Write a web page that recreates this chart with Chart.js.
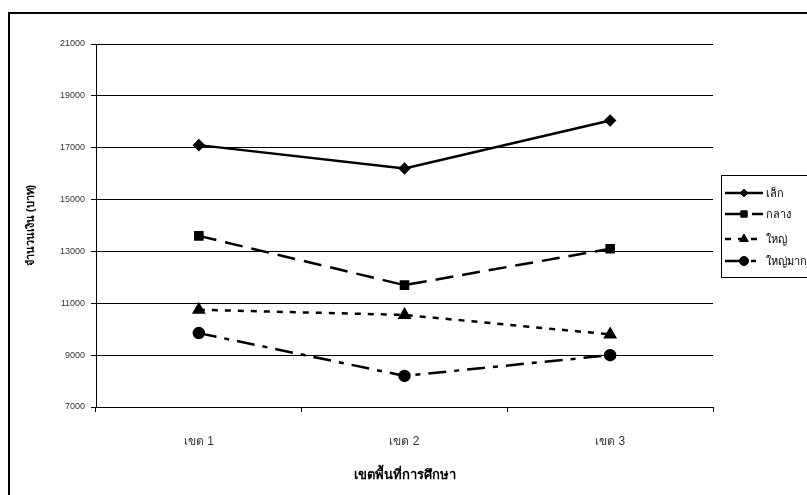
<!DOCTYPE html>
<html>
<head>
<meta charset="utf-8">
<script src="https://cdn.jsdelivr.net/npm/chart.js@4"></script>
<style>
  html, body { margin: 0; padding: 0; background: #fff; }
  #wrap { width: 807px; height: 495px; }
</style>
</head>
<body>
<div id="wrap"><canvas id="chart" width="807" height="495"></canvas></div>
<script>
const zones = ['เขต 1', 'เขต 2', 'เขต 3'];
const small = [17100, 16200, 18050];
const medium = [13600, 11700, 13100];
const large = [10750, 10550, 9800];
const xlarge = [9850, 8200, 9000];
const yTicks = [7000, 9000, 11000, 13000, 15000, 17000, 19000, 21000];

const FONT = "'Liberation Sans', Arial, 'DejaVu Sans', sans-serif";

// white background + outer frame
const framePlugin = {
    id: 'frame',
    beforeDraw(chart) {
        const ctx = chart.ctx;
        ctx.save();
        ctx.fillStyle = '#fff';
        ctx.fillRect(0, 0, chart.width, chart.height);
        ctx.strokeStyle = '#000';
        ctx.lineWidth = 2;
        ctx.strokeRect(9, 13, chart.width + 20, chart.height + 20);
        ctx.restore();
    }
};

// boxed legend on the right, drawn from dataset styles
const boxLegend = {
    id: 'boxLegend',
    afterDraw(chart) {
        const ctx = chart.ctx;
        const x0 = 721, y0 = 175, w = 90, h = 102;
        ctx.save();
        ctx.fillStyle = '#fff';
        ctx.fillRect(x0, y0, w, h);
        ctx.strokeStyle = '#000';
        ctx.lineWidth = 1;
        ctx.strokeRect(x0 + 0.5, y0 + 0.5, w, h);
        const rows = [193, 214, 239, 261];
        chart.data.datasets.forEach((ds, i) => {
            const y = rows[i];
            ctx.strokeStyle = '#000';
            ctx.fillStyle = '#000';
            ctx.lineWidth = ds.borderWidth;
            ctx.setLineDash(ds.borderDash || []);
            ctx.beginPath();
            ctx.moveTo(725, y);
            ctx.lineTo(763, y);
            ctx.stroke();
            ctx.setLineDash([]);
            ctx.lineWidth = 1;
            Chart.helpers.drawPoint(ctx, {
                pointStyle: ds.pointStyle,
                radius: ds.pointRadius - 0.5,
                borderWidth: 1
            }, 744, y);
            ctx.fillStyle = '#000';
            ctx.font = '11px ' + FONT;
            ctx.textBaseline = 'middle';
            ctx.fillText(ds.label, 766, y + 1);
        });
        ctx.restore();
    }
};

function series(label, data, dash, style, r) {
    return {
        label: label,
        data: data,
        borderColor: '#000',
        backgroundColor: '#000',
        pointBackgroundColor: '#000',
        pointBorderColor: '#000',
        borderWidth: 2.5,
        borderDash: dash,
        pointStyle: style,
        pointRadius: r,
        pointHoverRadius: r,
        tension: 0,
        fill: false
    };
}

new Chart(document.getElementById('chart').getContext('2d'), {
    type: 'line',
    data: {
        labels: zones,
        datasets: [
            series('เล็ก', small, [], 'rectRot', 4.5),
            series('กลาง', medium, [18, 9], 'rect', 5),
            series('ใหญ่', large, [6, 7], 'triangle', 5.5),
            series('ใหญ่มาก', xlarge, [18, 8, 5, 8], 'circle', 5)
        ]
    },
    options: {
        responsive: false,
        animation: false,
        layout: { padding: { left: 24, right: 94, top: 44, bottom: 0 } },
        plugins: {
            legend: { display: false },
            tooltip: { enabled: false }
        },
        scales: {
            x: {
                offset: true,
                afterFit(scale) { scale.height = 88; },
                grid: {
                    offset: true,
                    drawOnChartArea: false,
                    drawTicks: true,
                    tickLength: 5,
                    color: '#000'
                },
                border: { color: '#000', width: 1 },
                ticks: {
                    color: '#333',
                    font: { family: FONT, size: 12 },
                    padding: 22
                },
                title: {
                    display: true,
                    text: 'เขตพื้นที่การศึกษา',
                    color: '#000',
                    font: { family: FONT, size: 13, weight: 'bold' },
                    padding: { top: 8, bottom: 12 }
                }
            },
            y: {
                min: 7000,
                max: 21000,
                afterFit(scale) { scale.width = 72; },
                afterBuildTicks(scale) {
                    scale.ticks = yTicks.map(v => ({ value: v }));
                },
                grid: {
                    color: '#000',
                    lineWidth: 1,
                    drawTicks: true,
                    tickLength: 5
                },
                border: { color: '#000', width: 1 },
                ticks: {
                    color: '#333',
                    font: { family: FONT, size: 9 },
                    padding: 6,
                    callback: (v) => String(v)
                },
                title: {
                    display: true,
                    text: 'จำนวนเงิน (บาท)',
                    color: '#000',
                    font: { family: FONT, size: 11, weight: 'bold' },
                    padding: { top: 0, bottom: 0 }
                }
            }
        }
    },
    plugins: [framePlugin, boxLegend]
});
</script>
</body>
</html>
